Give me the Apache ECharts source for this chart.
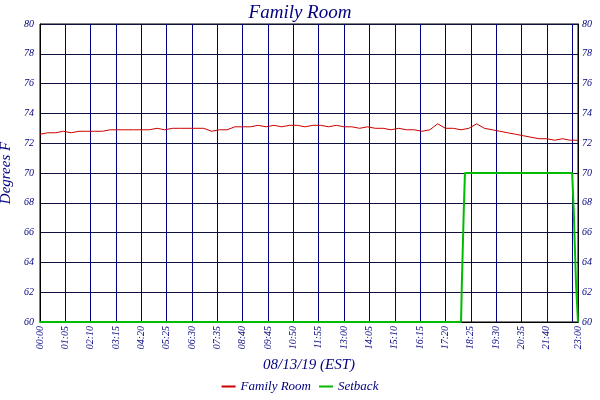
<html>
<head>
<meta charset="utf-8">
<script src="https://cdn.jsdelivr.net/npm/echarts@6/dist/echarts.min.js"></script>
</head>
<body style="margin:0">
<div id="main" style="width:600px;height:400px"></div>
<script>
// minutes since midnight
var roomTimes = [0,20,40,60,80,100,120,140,160,180,200,220,240,260,280,300,320,340,360,380,400,420,440,460,480,500,520,540,560,580,600,620,640,660,680,700,720,740,760,780,800,820,840,860,880,900,920,940,960,980,1000,1020,1040,1060,1080,1100,1120,1140,1160,1180,1200,1220,1240,1260,1280,1300,1320,1340,1360,1380];
var roomTemps = [72.6,72.7,72.7,72.8,72.7,72.8,72.8,72.8,72.8,72.9,72.9,72.9,72.9,72.9,72.9,73.0,72.9,73.0,73.0,73.0,73.0,73.0,72.8,72.9,72.9,73.1,73.1,73.1,73.2,73.1,73.2,73.1,73.2,73.2,73.1,73.2,73.2,73.1,73.2,73.1,73.1,73.0,73.1,73.0,73.0,72.9,73.0,72.9,72.9,72.8,72.9,73.3,73.0,73.0,72.9,73.0,73.3,73.0,72.9,72.8,72.7,72.6,72.5,72.4,72.3,72.3,72.2,72.3,72.2,72.2];
var setbackTimes = [0,1080,1082,1085,1087,1090,1365,1369,1371,1375,1377,1380];
var setbackTemps = [60,60,62.5,62.5,67.5,70,70,67.5,67.5,62.5,62.5,60];

function pairs(t, v) { return t.map(function (x, i) { return [x, v[i]]; }); }
function hhmm(m) { var h = Math.floor(m / 60), n = m % 60; return (h < 10 ? '0' : '') + h + ':' + (n < 10 ? '0' : '') + n; }

var navy = '#000080';
var font = 'Liberation Serif';
var chart = echarts.init(document.getElementById('main'));
chart.setOption({
    backgroundColor: '#fff',
    animation: false,
    title: { text: 'Family Room', left: 'center', top: -2,
        textStyle: { color: navy, fontStyle: 'italic', fontFamily: font, fontSize: 19, fontWeight: 'normal' } },
    legend: { bottom: 2, left: 'center', itemWidth: 14, itemHeight: 2, icon: 'rect',
        textStyle: { color: navy, fontStyle: 'italic', fontFamily: font, fontSize: 13 },
        data: ['Family Room', 'Setback'] },
    grid: { left: 40, right: 22, top: 24, bottom: 78, containLabel: false, outerBoundsMode: 'none',
        show: true, borderColor: '#000', borderWidth: 1 },
    xAxis: {
        type: 'value', min: 0, max: 1380, interval: 65,
        name: '08/13/19 (EST)', nameLocation: 'middle', nameGap: 36,
        nameTextStyle: { color: navy, fontStyle: 'italic', fontFamily: font, fontSize: 15 },
        axisLine: { lineStyle: { color: '#000' } }, axisTick: { show: false },
        axisLabel: { rotate: 90, color: navy, fontStyle: 'italic', fontFamily: font, fontSize: 10, margin: 4,
            showMaxLabel: true, hideOverlap: false, formatter: hhmm },
        splitLine: { show: true, lineStyle: { color: navy, width: 1 } }
    },
    yAxis: [{
        type: 'value', min: 60, max: 80, interval: 2,
        name: 'Degrees F', nameLocation: 'middle', nameGap: 24,
        nameTextStyle: { color: navy, fontStyle: 'italic', fontFamily: font, fontSize: 15 },
        axisLine: { show: true, lineStyle: { color: '#000' } }, axisTick: { show: false },
        axisLabel: { color: navy, fontStyle: 'italic', fontFamily: font, fontSize: 10, margin: 6 },
        splitLine: { show: true, lineStyle: { color: '#101040', width: 1 } }
    }, {
        type: 'value', min: 60, max: 80, interval: 2, position: 'right',
        axisLine: { show: true, lineStyle: { color: '#000' } }, axisTick: { show: false },
        axisLabel: { color: navy, fontStyle: 'italic', fontFamily: font, fontSize: 10, margin: 4 },
        splitLine: { show: false }
    }],
    series: [{
        name: 'Family Room', type: 'line', data: pairs(roomTimes, roomTemps),
        showSymbol: false, color: '#cc0000', lineStyle: { width: 1 }
    }, {
        name: 'Setback', type: 'line', data: pairs(setbackTimes, setbackTemps),
        showSymbol: false, color: '#00bb00', lineStyle: { width: 2 }
    }]
});
</script>
</body>
</html>
